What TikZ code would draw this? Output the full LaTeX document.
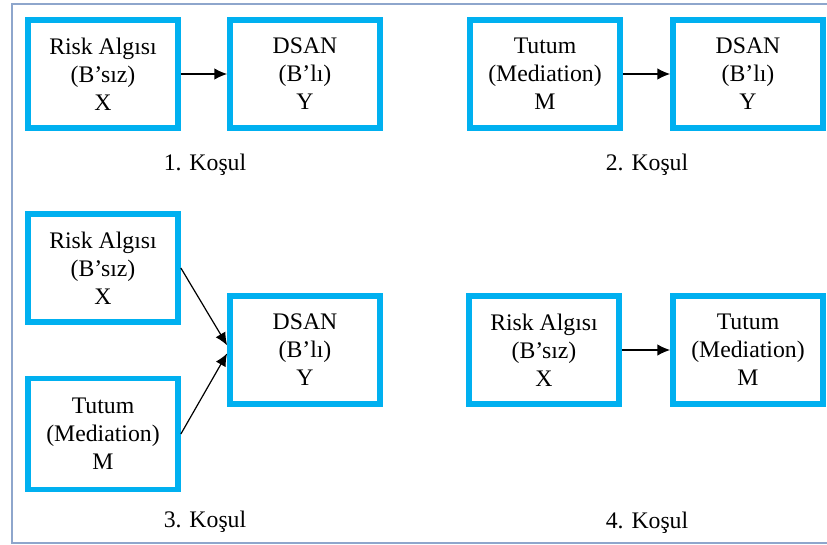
\documentclass[tikz,border=0pt]{standalone}
\usepackage{fontspec}
\setmainfont{Liberation Serif}
\usetikzlibrary{arrows.meta}
\definecolor{boxblue}{HTML}{00B0F0}
\definecolor{framec}{HTML}{8EA6CC}
\begin{document}
\begin{tikzpicture}[x=0.75pt,y=-0.75pt,
  vbox/.style={draw=boxblue,line width=4.3pt,fill=white,minimum width=150*0.75pt,minimum height=108*0.75pt,
    align=center,inner sep=0pt,font=\rmfamily\fontsize{17.8}{21}\selectfont},
  lbl/.style={font=\rmfamily\fontsize{17.8}{21}\selectfont,inner sep=0pt},
  arr/.style={line width=0.9pt,-{Latex[length=9.5pt,width=8.5pt]}}]
\useasboundingbox (0,0) rectangle (827,545);
\draw[framec,line width=1.2pt] (827,4) -- (12,4) -- (12,543) -- (827,543);
% condition 1
\node[vbox] (a1) at (103,74) {Risk Algısı\\(B’sız)\\X};
\node[vbox] (a2) at (305,74) {DSAN\\(B’lı)\\Y};
\draw[arr] (a1) -- (a2);
\node[lbl] (l1) at (205,165) {1. Koşul};
% condition 2
\node[vbox] (b1) at (545,74) {Tutum\\(Mediation)\\M};
\node[vbox] (b2) at (748,74) {DSAN\\(B’lı)\\Y};
\draw[arr] (b1) -- (b2);
\node[lbl] (l2) at (647,165) {2. Koşul};
% condition 3
\node[vbox] (c1) at (103,268) {Risk Algısı\\(B’sız)\\X};
\node[vbox,minimum height=111*0.75pt] (c2) at (103,434) {Tutum\\(Mediation)\\M};
\node[vbox] (c3) at (305,350) {DSAN\\(B’lı)\\Y};
\draw[arr] (c1.east) -- ([yshift=3.5pt]c3.west);
\draw[arr] (c2.east) -- ([yshift=-2.5pt]c3.west);
\node[lbl] (l3) at (205,522) {3. Koşul};
% condition 4
\node[vbox] (d1) at (544,350) {Risk Algısı\\(B’sız)\\X};
\node[vbox] (d2) at (748,350) {Tutum\\(Mediation)\\M};
\draw[arr] (d1) -- (d2);
\node[lbl] (l4) at (647,523) {4. Koşul};
\end{tikzpicture}
\end{document}
